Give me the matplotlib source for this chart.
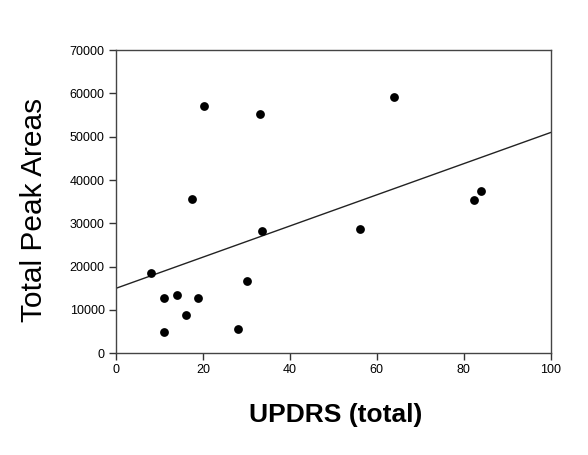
import numpy as np
import matplotlib
matplotlib.use("Agg")
import matplotlib.pyplot as plt

plt.rcParams['font.family'] = ['Liberation Sans', 'DejaVu Sans']

updrs = [8.0, 11.1, 11.1, 14.0, 16.1, 17.6, 19.0, 20.2, 28.1, 30.1, 33.1, 33.6, 56.1, 64.0, 82.4, 84.0]
peak_areas = [18460, 12690, 4920, 13530, 8770, 35690, 12690, 57010, 5540, 16620, 55160, 28230, 28620, 59160, 35380, 37530]
x_ticks = [0, 20, 40, 60, 80, 100]
y_ticks = [0, 10000, 20000, 30000, 40000, 50000, 60000, 70000]

fig = plt.figure(figsize=(5.88, 4.55), dpi=100)
ax = fig.add_axes([0.197, 0.2235, 0.7396, 0.6665])

ax.scatter(updrs, peak_areas, s=40, color='black', zorder=3, linewidths=0)

slope, intercept = np.polyfit(updrs, peak_areas, 1)
xl = np.array([0, 100])
ax.plot(xl, intercept + slope * xl, color='#222222', linewidth=1.0)

ax.set_xlim(0, 100)
ax.set_ylim(0, 70000)
ax.set_xticks(x_ticks)
ax.set_yticks(y_ticks)
ax.set_xticklabels([str(v) for v in x_ticks])
ax.set_yticklabels([str(v) for v in y_ticks])
ax.tick_params(direction='out', length=5, width=1, labelsize=9, pad=3, colors='#333333', labelcolor='black')
for sp in ax.spines.values():
    sp.set_color('#444444')
    sp.set_linewidth(1)

ax.set_xlabel('UPDRS (total)', fontsize=19, fontweight='bold')
ax.xaxis.set_label_coords(0.505, -0.165)
ax.set_ylabel('Total Peak Areas', fontsize=21.5)
ax.yaxis.set_label_coords(-0.156, 0.474)

fig.savefig('out.png', dpi=100)
